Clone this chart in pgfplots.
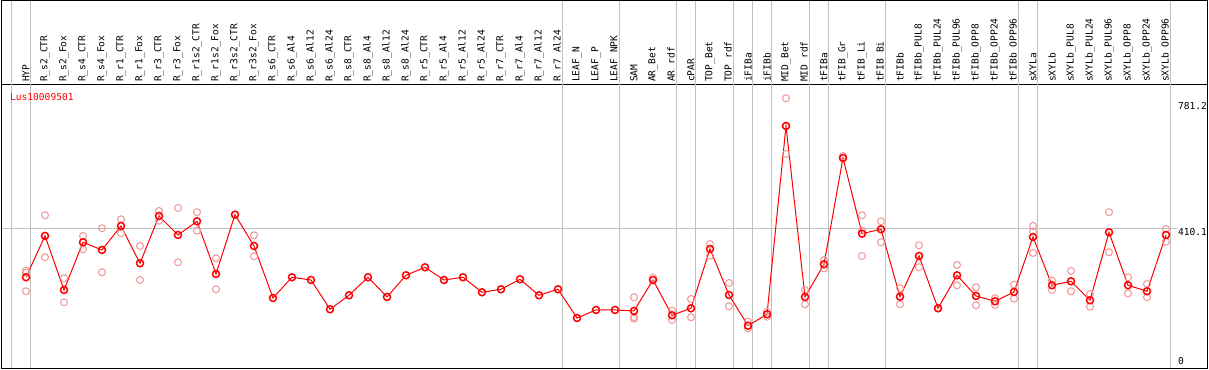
\documentclass[border=0pt]{standalone}
\usepackage{fontspec}
\setmainfont{DejaVu Sans Mono}
\usepackage{pgfplots}
\pgfplotsset{compat=1.18}
\definecolor{repc}{RGB}{240,150,150}
\definecolor{gridc}{RGB}{192,192,192}
\begin{document}
\begin{tikzpicture}
\begin{axis}[
  width=1206bp, height=284bp, scale only axis,
  xmin=-1.28947, xmax=62.18421, ymin=0, ymax=827.8,
  axis line style={black, line width=1bp},
  xtick={0,...,60},
  xticklabels={HYP, R\_s2\_CTR, R\_s2\_Fox, R\_s4\_CTR, R\_s4\_Fox, R\_r1\_CTR, R\_r1\_Fox, R\_r3\_CTR, R\_r3\_Fox, R\_r1s2\_CTR, R\_r1s2\_Fox, R\_r3s2\_CTR, R\_r3s2\_Fox, R\_s6\_CTR, R\_s6\_Al4, R\_s6\_Al12, R\_s6\_Al24, R\_s8\_CTR, R\_s8\_Al4, R\_s8\_Al12, R\_s8\_Al24, R\_r5\_CTR, R\_r5\_Al4, R\_r5\_Al12, R\_r5\_Al24, R\_r7\_CTR, R\_r7\_Al4, R\_r7\_Al12, R\_r7\_Al24, LEAF\_N, LEAF\_P, LEAF\_NPK, SAM, AR\_Bet, AR\_rdf, cPAR, TOP\_Bet, TOP\_rdf, iFIBa, iFIBb, MID\_Bet, MID\_rdf, tFIBa, tFIB\_Gr, tFIB\_Li, tFIB\_Bi, tFIBb, tFIBb\_PUL8, tFIBb\_PUL24, tFIBb\_PUL96, tFIBb\_OPP8, tFIBb\_OPP24, tFIBb\_OPP96, sXYLa, sXYLb, sXYLb\_PUL8, sXYLb\_PUL24, sXYLb\_PUL96, sXYLb\_OPP8, sXYLb\_OPP24, sXYLb\_OPP96},
  xticklabel pos=upper,
  major tick length=0pt,
  ytick=\empty,
  xticklabel style={rotate=90, anchor=west, inner sep=0pt, font=\fontsize{9.6}{10}\selectfont},
  xticklabel shift=3bp,
  clip=false,
]
\pgfplotsinvokeforeach{-0.75,0.25,28.25,31.25,34.25,35.25,37.25,38.25,39.25,41.25,42.25,45.25,52.25,53.25,60.25}{
  \draw[gridc, line width=1bp] (axis cs:#1,0) -- (axis cs:#1,1074.1);
}
\draw[gridc, line width=1bp] (axis cs:-1.28947,410.1) -- (axis cs:60.58,410.1);

% replicates
\addplot[only marks, mark=o, mark size=3.5bp, repc, mark options={line width=1bp}] coordinates {
(0,286.5)(0,280.7)(0,226.5)
(1,448.0)(1,325.6)
(2,264.4)(2,194.4)
(3,387.7)(3,348.9)
(4,410.1)(4,281.9)
(5,436.3)(5,395.5)
(6,358.5)(6,259.4)
(7,460.5)(7,432.2)
(8,469.3)(8,311.0)
(9,456.7)(9,403.1)
(10,322.7)(10,232.3)
(11,449.7)
(12,389.7)(12,328.5)
(32,209.0)(32,150.7)(32,146.6)
(33,266.1)
(34,169.9)(34,142.8)
(35,204.0)(35,150.7)
(36,364.3)(36,330.2)
(37,250.7)(37,182.7)
(38,137.9)(38,118.6)
(39,167.0)(39,152.4)
(40,789.0)(40,626.7)
(41,230.3)(41,188.6)
(42,317.7)(42,293.5)
(43,620.8)
(44,448.0)(44,329.4)(44,403.1)
(45,430.5)(45,369.3)
(46,235.2)(46,188.6)
(47,360.5)(47,296.4)
(48,176.9)
(49,303.1)(49,244.0)
(50,238.1)(50,185.7)
(51,206.1)(51,186.5)
(52,245.7)(52,204.9)
(53,416.8)(53,400.2)(53,338.1)
(54,257.4)(54,230.3)
(55,285.6)(55,226.5)
(56,218.6)(56,181.6)
(57,456.7)(57,340.1)
(58,267.3)(58,220.6)
(59,247.7)(59,209.0)
(60,408.1)(60,371.0)
};

% means
\addplot[red, line width=1bp, mark=o, mark size=3.5bp, mark options={line width=1.5bp}] coordinates {
(0,267.3)(1,388.0)(2,230.3)(3,369.3)(4,346.9)(5,416.8)(6,308.1)(7,446.0)(8,390.6)(9,430.5)
(10,276.9)(11,449.7)(12,358.5)(13,206.9)(14,267.3)(15,259.4)(16,174.0)(17,214.8)(18,267.3)(19,209.9)
(20,273.1)(21,296.4)(22,259.4)(23,267.3)(24,223.6)(25,232.3)(26,261.4)(27,214.8)(28,232.3)(29,148.6)
(30,172.0)(31,172.0)(32,169.1)(33,259.4)(34,156.5)(35,176.9)(36,349.8)(37,215.7)(38,126.2)(39,159.4)
(40,708.3)(41,209.9)(42,305.2)(43,615.0)(44,394.4)(45,407.2)(46,210.7)(47,329.4)(48,176.9)(49,273.1)
(50,212.8)(51,197.3)(52,224.4)(53,384.7)(54,244.0)(55,255.6)(56,200.2)(57,398.4)(58,244.0)(59,226.5)
(60,390.6)
};

\node[anchor=west, text=red, inner sep=0pt, font=\fontsize{9.6}{10}\selectfont] at (axis cs:-0.842,793.7) {Lus10009501};
\node[anchor=north west, inner sep=0pt, yshift=-1.5bp, font=\fontsize{9.6}{10}\selectfont] at (axis cs:60.63,781.2) {781.2};
\node[anchor=north west, inner sep=0pt, font=\fontsize{9.6}{10}\selectfont] at (axis cs:60.63,410.1) {410.1};
\node[anchor=south west, inner sep=0pt, yshift=4bp, font=\fontsize{9.6}{10}\selectfont] at (axis cs:60.63,0) {0};

\coordinate (bbA) at (axis cs:-1.36842,-2.915);
\coordinate (bbB) at (axis cs:62.26316,1075.5);
\coordinate (frA) at (axis cs:-1.28947,0);
\coordinate (frB) at (axis cs:62.18421,1074.1);
\end{axis}
\draw[black, line width=1bp] (frA) rectangle (frB);
\pgfresetboundingbox
\path[use as bounding box] (bbA) rectangle (bbB);
\end{tikzpicture}
\end{document}
